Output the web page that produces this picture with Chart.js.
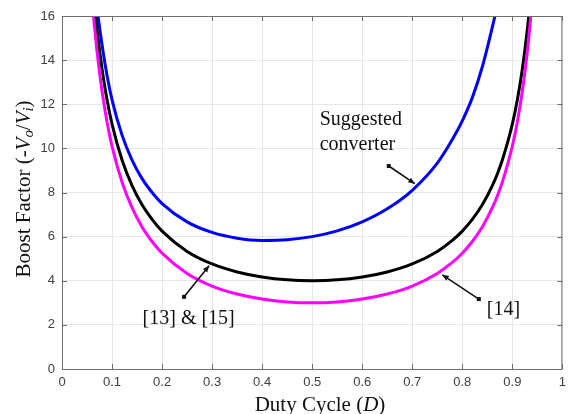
<!DOCTYPE html>
<html>
<head>
<meta charset="utf-8">
<script src="https://cdn.jsdelivr.net/npm/chart.js@4"></script>
<style>
  html, body { margin: 0; padding: 0; background: #fff; }
  #wrap { width: 572px; height: 414px; }
</style>
</head>
<body>
<div id="wrap"><canvas id="boostChart"></canvas></div>
<script>
// duty cycle samples
const duty = [0.06, 0.07, 0.08, 0.09, 0.10, 0.12, 0.14, 0.16, 0.18, 0.20, 0.25, 0.30, 0.35, 0.40, 0.45, 0.50,
              0.55, 0.60, 0.65, 0.70, 0.75, 0.78, 0.80, 0.82, 0.84, 0.86, 0.87, 0.88, 0.90, 0.91, 0.92, 0.93, 0.94];

const suggested = [18.8, 16.4, 14.7, 13.3, 12.2, 10.6, 9.47, 8.63, 8.0, 7.5, 6.67, 6.19, 5.93, 5.83, 5.86, 6.0,
                   6.26, 6.67, 7.26, 8.1, 9.33, 10.4, 11.25, 12.3, 13.7, 15.5, 16.5, 17.8, null, null, null, null, null];
const ref13_15 = [17.7, 15.4, 13.6, 12.2, 11.1, 9.47, 8.31, 7.44, 6.78, 6.25, 5.33, 4.76, 4.40, 4.17, 4.04, 4.0,
                  4.04, 4.17, 4.40, 4.76, 5.33, 5.83, 6.25, 6.78, 7.44, 8.31, 8.84, 9.47, 11.1, 12.2, 13.6, 15.4, 17.7];
const ref14 = [16.7, 14.4, 12.6, 11.2, 10.1, 8.47, 7.31, 6.44, 5.78, 5.25, 4.33, 3.76, 3.40, 3.17, 3.04, 3.0,
               3.04, 3.17, 3.40, 3.76, 4.33, 4.83, 5.25, 5.78, 6.44, 7.31, 7.84, 8.47, 10.1, 11.2, 12.6, 14.4, 16.7];

const xTicks = [0, 0.1, 0.2, 0.3, 0.4, 0.5, 0.6, 0.7, 0.8, 0.9, 1];
const yTicks = [0, 2, 4, 6, 8, 10, 12, 14, 16];

const toPts = (ys) => duty.map((d, i) => ({ x: d, y: ys[i] }));

// labels + arrows, positions in data units
const notes = [
  { lines: ["Suggested", "converter"], x: 0.515, y: [11.3, 10.15], from: [0.653, 9.2], to: [0.705, 8.4] },
  { lines: ["[13] & [15]"], x: 0.161, y: [2.3], from: [0.244, 3.27], to: [0.294, 4.68] },
  { lines: ["[14]"], x: 0.849, y: [2.67], from: [0.833, 3.17], to: [0.760, 4.27] }
];

const serif = '"Liberation Serif", "Times New Roman", serif';

function drawRich(ctx, parts, size) {
  // parts: [text, italic, sub]
  let w = 0;
  parts.forEach(p => {
    ctx.font = (p[1] ? "italic " : "") + (p[2] ? size * 0.7 : size) + "px " + serif;
    w += ctx.measureText(p[0]).width;
  });
  let x = -w / 2;
  parts.forEach(p => {
    ctx.font = (p[1] ? "italic " : "") + (p[2] ? size * 0.7 : size) + "px " + serif;
    ctx.fillText(p[0], x, p[2] ? size * 0.25 : 0);
    x += ctx.measureText(p[0]).width;
  });
}

const extras = {
  id: "extras",
  afterDraw(chart) {
    const { ctx, chartArea: a, scales } = chart;
    const xs = scales.x, ys = scales.y;
    ctx.save();

    // box + inward ticks like matlab
    ctx.strokeStyle = "#6e6e6e";
    ctx.lineWidth = 1;
    ctx.strokeRect(a.left + 0.5, a.top + 0.5, a.right - a.left - 1, a.bottom - a.top);
    ctx.beginPath();
    xTicks.forEach(v => {
      const px = Math.round(xs.getPixelForValue(v)) + 0.5;
      ctx.moveTo(px, a.bottom); ctx.lineTo(px, a.bottom - 5);
      ctx.moveTo(px, a.top); ctx.lineTo(px, a.top + 5);
    });
    yTicks.forEach(v => {
      const py = Math.round(ys.getPixelForValue(v)) + 0.5;
      ctx.moveTo(a.left, py); ctx.lineTo(a.left + 5, py);
      ctx.moveTo(a.right, py); ctx.lineTo(a.right - 5, py);
    });
    ctx.stroke();

    // annotations
    ctx.fillStyle = "#111";
    ctx.strokeStyle = "#111";
    ctx.font = "20px " + serif;
    ctx.textBaseline = "middle";
    ctx.textAlign = "left";
    notes.forEach(n => {
      n.lines.forEach((t, i) => ctx.fillText(t, xs.getPixelForValue(n.x), ys.getPixelForValue(n.y[i])));
      const x0 = xs.getPixelForValue(n.from[0]), y0 = ys.getPixelForValue(n.from[1]);
      const x1 = xs.getPixelForValue(n.to[0]), y1 = ys.getPixelForValue(n.to[1]);
      ctx.lineWidth = 1.6;
      ctx.beginPath(); ctx.moveTo(x0, y0); ctx.lineTo(x1, y1); ctx.stroke();
      ctx.fillRect(x0 - 2, y0 - 2, 4, 4);
      const ang = Math.atan2(y1 - y0, x1 - x0);
      ctx.beginPath();
      ctx.moveTo(x1, y1);
      ctx.lineTo(x1 - 7 * Math.cos(ang - 0.4), y1 - 7 * Math.sin(ang - 0.4));
      ctx.lineTo(x1 - 7 * Math.cos(ang + 0.4), y1 - 7 * Math.sin(ang + 0.4));
      ctx.closePath(); ctx.fill();
    });

    // axis titles
    ctx.fillStyle = "#111";
    ctx.textBaseline = "middle";
    ctx.save();
    ctx.translate(24, 189);
    ctx.rotate(-Math.PI / 2);
    drawRich(ctx, [["Boost Factor (-", false, false], ["V", true, false], ["o", true, true],
                   ["/", false, false], ["V", true, false], ["i", true, true], [")", false, false]], 21);
    ctx.restore();
    ctx.save();
    ctx.translate(320, 405);
    drawRich(ctx, [["Duty Cycle (", false, false], ["D", true, false], [")", false, false]], 21);
    ctx.restore();

    ctx.restore();
  }
};

const lineStyle = (label, data, color) => ({
  label: label,
  data: toPts(data),
  borderColor: color,
  borderWidth: 3,
  pointRadius: 0,
  fill: false,
  cubicInterpolationMode: "monotone",
  spanGaps: false
});

new Chart(document.getElementById("boostChart"), {
  type: "line",
  data: {
    datasets: [
      lineStyle("[14]", ref14, "#ff00ff"),
      lineStyle("[13] & [15]", ref13_15, "#000000"),
      lineStyle("Suggested converter", suggested, "#0000ff")
    ]
  },
  options: {
    responsive: true,
    maintainAspectRatio: false,
    animation: false,
    layout: { padding: { top: 16, right: 5, left: 0, bottom: 0 } },
    plugins: { legend: { display: false }, tooltip: { enabled: false } },
    scales: {
      x: {
        type: "linear",
        min: 0, max: 1,
        afterBuildTicks: s => { s.ticks = xTicks.map(v => ({ value: v })); },
        afterFit: s => { s.height = 45; },
        grid: { color: "#e6e6e6", drawTicks: false },
        border: { display: false },
        ticks: {
          padding: 6,
          color: "#404040",
          font: { family: '"Liberation Sans", Arial, sans-serif', size: 13 },
          callback: v => String(v)
        }
      },
      y: {
        min: 0, max: 16,
        afterBuildTicks: s => { s.ticks = yTicks.map(v => ({ value: v })); },
        afterFit: s => { s.width = 62; },
        grid: { color: "#e6e6e6", drawTicks: false },
        border: { display: false },
        ticks: {
          padding: 7,
          color: "#404040",
          font: { family: '"Liberation Sans", Arial, sans-serif', size: 13 }
        }
      }
    }
  },
  plugins: [extras]
});
</script>
</body>
</html>
